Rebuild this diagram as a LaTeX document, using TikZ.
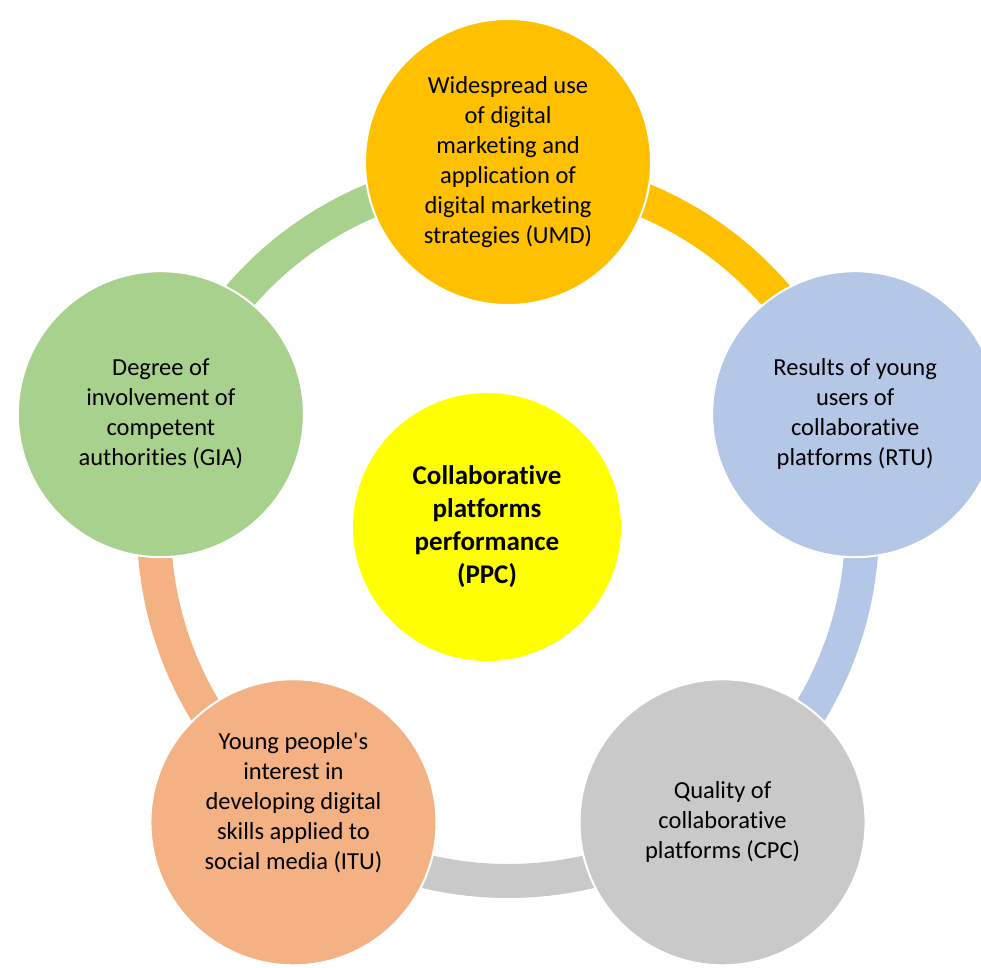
\documentclass[tikz,border=0pt]{standalone}
\usepackage{fontspec}
\setmainfont{Carlito}[Ligatures={TeX,NoCommon}]
\usetikzlibrary{calc}

\definecolor{umdorange}{HTML}{FFC000}
\definecolor{rtublue}{HTML}{B4C7E7}
\definecolor{cpcgray}{HTML}{C9C9C9}
\definecolor{itusalmon}{HTML}{F4B183}
\definecolor{giagreen}{HTML}{A9D18E}
\definecolor{ppcyellow}{HTML}{FFFF00}

\tikzset{
  factor/.style={circle, draw=white, line width=2pt, minimum size=286pt, inner sep=0pt, align=center, text=black, font=\fontsize{24.5}{30}\selectfont},
  ringarc/.style={line width=34pt},
}

\begin{document}
\begin{tikzpicture}[x=1pt,y=1pt]
	\useasboundingbox (0,0) rectangle (981,967); %marco
	\coordinate (ring) at (508,440); %centro del anillo
	\draw[ringarc, giagreen] ($(ring)+(162:354)$) arc[start angle=162, end angle=90, radius=354]; %GIA a UMD
	\draw[ringarc, umdorange] ($(ring)+(90:354)$) arc[start angle=90, end angle=18, radius=354]; %UMD a RTU
	\draw[ringarc, rtublue] ($(ring)+(18:354)$) arc[start angle=18, end angle=-54, radius=354]; %RTU a CPC
	\draw[ringarc, cpcgray] ($(ring)+(-54:354)$) arc[start angle=-54, end angle=-126, radius=354]; %CPC a ITU
	\draw[ringarc, itusalmon] ($(ring)+(-126:354)$) arc[start angle=-126, end angle=-198, radius=354]; %ITU a GIA
	\node[factor, fill=umdorange] (UMD) at ($(ring)+(90:365)$) {Widespread use\\of digital\\marketing and\\application of\\digital marketing\\strategies (UMD)};
	\node[factor, fill=rtublue] (RTU) at ($(ring)+(18:365)$) {Results of young\\users of\\collaborative\\platforms (RTU)};
	\node[factor, fill=cpcgray] (CPC) at ($(ring)+(-54:365)$) {Quality of\\collaborative\\platforms (CPC)};
	\node[factor, fill=itusalmon, text depth=42pt] (ITU) at ($(ring)+(-126:365)$) {Young people\textquotesingle s\\interest in\\developing digital\\skills applied to\\social media (ITU)};
	\node[factor, fill=giagreen] (GIA) at ($(ring)+(162:365)$) {Degree of\\involvement of\\competent\\authorities (GIA)};
	\node[factor, draw=none, fill=ppcyellow, minimum size=268pt, font=\fontsize{27}{33}\selectfont\bfseries] (PPC) at (487,440) {Collaborative\\platforms\\performance\\(PPC)}; %nodo central
\end{tikzpicture}
\end{document}
